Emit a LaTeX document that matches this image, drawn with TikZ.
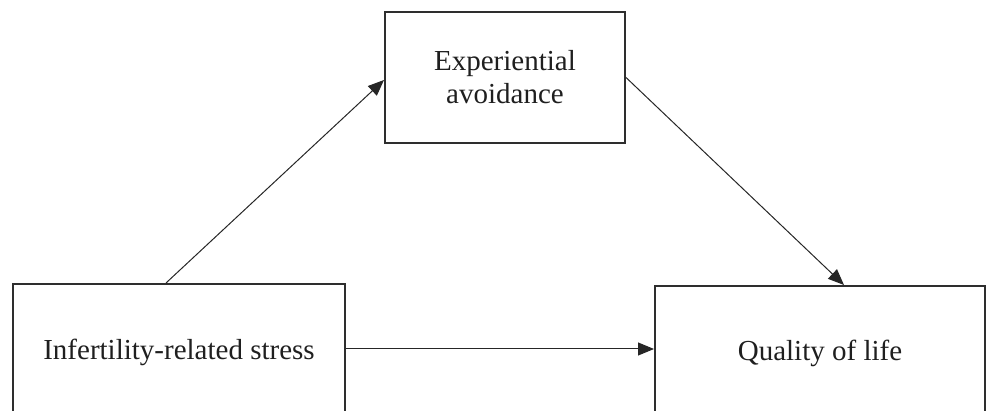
\documentclass[tikz,border=0pt]{standalone}
\usepackage{fontspec}
\setmainfont{Liberation Serif}
\usetikzlibrary{arrows.meta}
\begin{document}
\begin{tikzpicture}[x=1pt,y=-1pt,
  box/.style={draw=black!82, line width=2pt, text=black!88, align=center,
    font=\fontsize{29}{33}\selectfont, inner sep=0pt},
  conn/.style={draw=black!85, line width=1pt, -{Triangle[length=16pt,width=13pt]}}]
\clip (0,0) rectangle (986,411);
\node[box, minimum width=332pt, minimum height=136pt] (iv) at (179,352) {Infertility-related stress};
\node[box, minimum width=240pt, minimum height=131pt] (med) at (505,77.5) {Experiential\\avoidance};
\node[box, minimum width=330pt, minimum height=134pt] (dv) at (820,353) {Quality of life};
\draw[conn] ([xshift=154pt]iv.north west) -- ([yshift=-2.5pt]med.west);
\draw[conn] (med.east) -- ([xshift=190pt]dv.north west);
\draw[conn] ([yshift=3pt]iv.east) -- ([yshift=3pt]iv.east -| dv.west);
\end{tikzpicture}
\end{document}
